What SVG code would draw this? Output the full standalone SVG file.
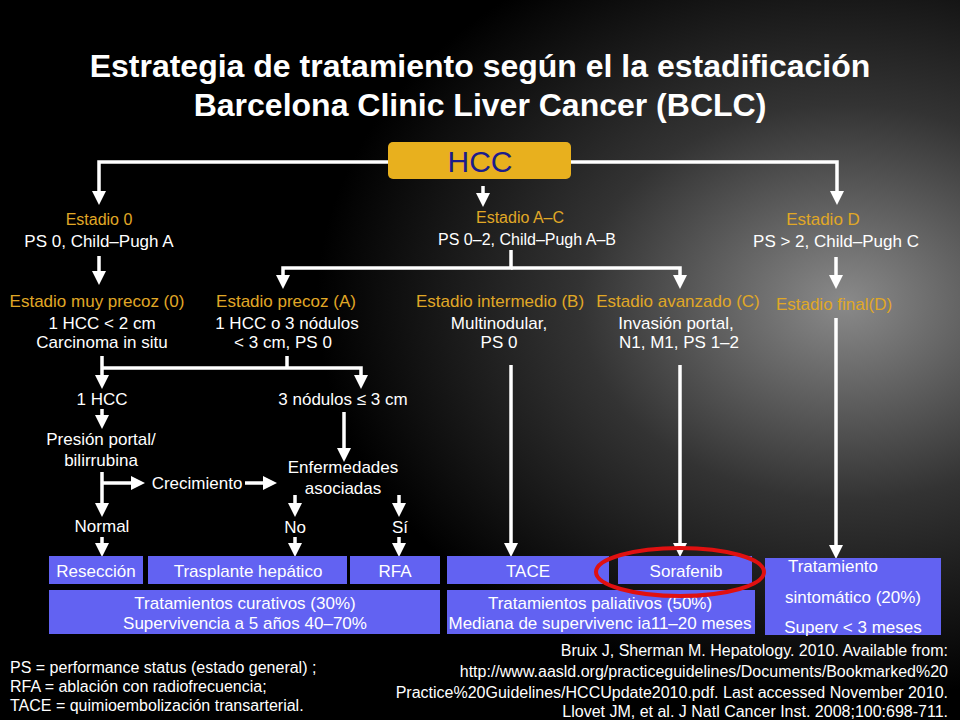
<svg xmlns="http://www.w3.org/2000/svg" width="960" height="720" viewBox="0 0 960 720">
<defs>
<radialGradient id="bg" cx="0.88" cy="0.42" r="0.55">
<stop offset="0" stop-color="#8a8a8a"/><stop offset="0.5" stop-color="#333"/><stop offset="1" stop-color="#000"/>
</radialGradient>
<marker id="ah" markerWidth="4" markerHeight="4" refX="2" refY="2" orient="auto" markerUnits="strokeWidth"><path d="M0,0L4,2L0,4z" fill="#fff"/></marker>
<style>
text{font-family:"Liberation Sans",Arial,sans-serif;font-size:17px;fill:#fff;text-anchor:middle}
.o{fill:#e0a826}
.s{font-size:16px}
.t{font-size:32px;font-weight:bold}
.b{fill:#6262f2}
.c line,.c path{stroke:#fff;stroke-width:3.5;fill:none}
.a{marker-end:url(#ah)}
.l{text-anchor:start;font-size:16px}.r{text-anchor:end;font-size:16px}
</style>
</defs>
<rect width="960" height="720" fill="#000"/>
<rect width="960" height="720" fill="url(#bg)"/>
<text class="t" x="480" y="77">Estrategia de tratamiento según el la estadificación</text>
<text class="t" x="480" y="116">Barcelona Clinic Liver Cancer (BCLC)</text>
<g class="c">
<path class="a" d="M388,162H99V198"/>
<path class="a" d="M571,162H837V198"/>
<line class="a" x1="483" y1="186" x2="483" y2="200"/>
<line class="a" x1="99" y1="256" x2="99" y2="278"/>
<path class="a" d="M511,250V268H283V282"/>
<path class="a" d="M511,268H680V282"/>
<line class="a" x1="836" y1="257" x2="836" y2="282"/>
<line x1="102" y1="356" x2="102" y2="368"/>
<line x1="287" y1="356" x2="287" y2="368"/>
<path class="a" d="M102,368V382"/>
<path class="a" d="M102,368H361V382"/>
<line class="a" x1="102" y1="409" x2="102" y2="422"/>
<line class="a" x1="344" y1="412" x2="344" y2="455"/>
<line class="a" x1="102" y1="472" x2="102" y2="510"/>
<path class="a" d="M102,483H138"/>
<line class="a" x1="245" y1="483" x2="270" y2="483"/>
<line class="a" x1="295" y1="495" x2="295" y2="510"/>
<line class="a" x1="399" y1="495" x2="399" y2="510"/>
<line class="a" x1="102" y1="537" x2="102" y2="550"/>
<line class="a" x1="295" y1="537" x2="295" y2="550"/>
<line class="a" x1="399" y1="537" x2="399" y2="550"/>
<line class="a" x1="511" y1="365" x2="511" y2="550"/>
<line class="a" x1="680" y1="365" x2="680" y2="550"/>
<line class="a" x1="836" y1="318" x2="836" y2="552"/>
</g>
<g id="hcc"><rect x="388" y="142" width="183" height="37" rx="5" fill="#e8b01e"/><text x="480" y="172" style="font-size:30px;fill:#1c1c8a">HCC</text></g>
<g id="e0"><text class="o s" x="99" y="225">Estadio 0</text><text x="99" y="247">PS 0, Child–Pugh  A</text></g>
<g id="eac"><text class="o s" x="520" y="223">Estadio A–C</text><text class="s" x="527" y="245">PS 0–2, Child–Pugh A–B</text></g>
<g id="ed"><text class="o" x="823" y="225">Estadio D</text><text x="836" y="247">PS &gt; 2, Child–Pugh  C</text></g>
<g id="s0"><text class="o" x="97" y="307">Estadio  muy precoz (0)</text><text x="102" y="329">1 HCC  &lt; 2 cm</text><text x="102" y="348">Carcinoma  in situ</text></g>
<g id="sa"><text class="o" x="286" y="307">Estadio  precoz (A)</text><text x="287" y="329">1 HCC  o 3 nódulos</text><text x="283" y="348">&lt; 3 cm, PS 0</text></g>
<g id="sb"><text class="o" x="500" y="307">Estadio  intermedio (B)</text><text x="499" y="329">Multinodular,</text><text x="499" y="348">PS 0</text></g>
<g id="sc"><text class="o" x="678" y="307">Estadio  avanzado  (C)</text><text x="676" y="329">Invasión portal,</text><text x="679" y="348">N1, M1, PS 1–2</text></g>
<g id="sd"><text class="o" x="834" y="310">Estadio  final(D)</text></g>
<g id="h1"><text x="102" y="405">1 HCC</text></g>
<g id="n3"><text x="343" y="405">3 nódulos  ≤ 3 cm</text></g>
<g id="pp"><text x="101" y="445">Presión  portal/</text><text x="101" y="466">bilirrubina</text></g>
<g id="cr"><text x="197" y="489">Crecimiento</text></g>
<g id="ea"><text x="343" y="473">Enfermedades</text><text x="343" y="494">asociadas</text></g>
<g id="nm"><text x="102" y="532">Normal</text></g>
<g id="no"><text x="295" y="533">No</text></g>
<g id="si"><text x="400" y="533">Sí</text></g>
<g id="res"><rect class="b" x="49" y="556" width="94" height="28"/><text x="96" y="577">Resección</text></g>
<g id="tr"><rect class="b" x="148" y="556" width="199" height="28"/><text x="248" y="577">Trasplante  hepático</text></g>
<g id="rfa"><rect class="b" x="350" y="556" width="90" height="28"/><text x="395" y="577">RFA</text></g>
<g id="tace"><rect class="b" x="447" y="556" width="162" height="28"/><text x="528" y="577">TACE</text></g>
<g id="sor"><rect class="b" x="618" y="556" width="134" height="28"/><text x="686" y="577">Sorafenib</text></g>
<g id="sin"><rect class="b" x="765" y="558" width="176" height="77"/><text x="833" y="572">Tratamiento</text><text x="853" y="603">sintomático  (20%)</text><text x="853" y="633">Superv  &lt; 3 meses</text></g>
<g id="cur"><rect class="b" x="49" y="590" width="391" height="44"/><text x="245" y="609">Tratamientos  curativos (30%)</text><text x="245" y="629">Supervivencia  a 5 años  40–70%</text></g>
<g id="pal"><rect class="b" x="447" y="590" width="308" height="44"/><text x="600" y="609">Tratamientos  paliativos  (50%)</text><text x="600" y="629">Mediana de supervivenc ia11–20 meses</text></g>
<ellipse cx="680" cy="572" rx="84" ry="24" fill="none" stroke="#e01010" stroke-width="4"/>
<text class="l" x="10" y="673">PS = performance status (estado general) ;</text>
<text class="l" x="10" y="692">RFA = ablación con radiofrecuencia;</text>
<text class="l" x="10" y="711">TACE = quimioembolización transarterial.</text>
<text class="r" x="948" y="656">Bruix J, Sherman M. Hepatology. 2010. Available from:</text>
<text class="r" x="948" y="677">http://www.aasld.org/practiceguidelines/Documents/Bookmarked%20</text>
<text class="r" x="948" y="698">Practice%20Guidelines/HCCUpdate2010.pdf. Last accessed November 2010.</text>
<text class="r" x="948" y="717">Llovet JM, et al. J  Natl Cancer Inst. 2008;100:698-711.</text>
</svg>
